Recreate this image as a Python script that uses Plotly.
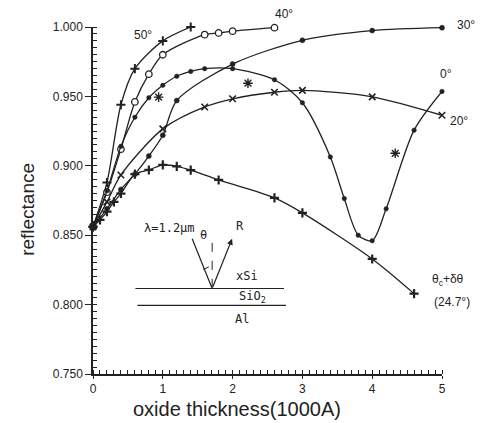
import plotly.graph_objects as go

# reflectance vs oxide thickness
x_50 = [0, 0.2, 0.4, 0.6, 1.0, 1.4]
r_50 = [0.856, 0.888, 0.944, 0.970, 0.990, 1.000]

x_40 = [0, 0.2, 0.4, 0.6, 0.8, 1.0, 1.6, 1.8, 2.0, 2.6]
r_40 = [0.856, 0.881, 0.912, 0.946, 0.966, 0.980, 0.9945, 0.9957, 0.997, 0.9995]

x_30 = [0, 0.2, 0.4, 0.6, 0.8, 1.0, 1.2, 2.0, 3.0, 4.0, 5.0]
r_30 = [0.856, 0.869, 0.883, 0.894, 0.907, 0.922, 0.947, 0.9733, 0.9904, 0.9974, 0.9995]

x_0 = [0, 0.2, 0.4, 0.6, 0.8, 1.0, 1.2, 1.4, 1.6, 2.0, 2.6, 3.0, 3.4, 3.6, 3.8, 4.0, 4.2, 4.6, 5.0]
r_0 = [0.856, 0.882, 0.914, 0.935, 0.949, 0.958, 0.9645, 0.968, 0.970, 0.970, 0.962,
       0.9454, 0.9064, 0.8764, 0.850, 0.846, 0.869, 0.9257, 0.9536]

x_20 = [0, 0.2, 0.4, 1.0, 1.6, 2.0, 2.6, 3.0, 4.0, 5.0]
r_20 = [0.856, 0.874, 0.8934, 0.9266, 0.9424, 0.9483, 0.953, 0.9543, 0.9497, 0.9364]

x_c = [0, 0.1, 0.2, 0.3, 0.4, 0.6, 0.8, 1.0, 1.2, 1.4, 1.8, 2.6, 3.0, 4.0, 4.6]
r_c = [0.856, 0.861, 0.867, 0.874, 0.880, 0.894, 0.897, 0.9007, 0.8996, 0.8969,
       0.8898, 0.8769, 0.8661, 0.8329, 0.8079]

# the loose asterisk points
x_star = [0.94, 2.22, 4.33]
r_star = [0.9495, 0.9595, 0.909]

ink = "#222"
X0, X1, Y0, Y1 = 0, 5, 0.75, 1.0
fig = go.Figure()

def curve(x, y, symbol, size, lw=1.5, fill=ink):
    fig.add_trace(go.Scatter(
        x=x, y=y, mode="lines+markers",
        line=dict(color=ink, width=1.3, shape="spline", smoothing=0.8),
        marker=dict(symbol=symbol, size=size, color=fill, line=dict(color=ink, width=lw)),
        cliponaxis=False, showlegend=False))

curve(x_50, r_50, "cross-thin", 6.5, 2)
curve(x_40, r_40, "circle", 6.5, 1.3, "white")
curve(x_30, r_30, "circle", 5, 0.5)
curve(x_0, r_0, "circle", 4.5, 0.5)
curve(x_20, r_20, "x-thin", 6.5, 1.6)
curve(x_c, r_c, "cross-thin", 6.5, 2.2)

fig.add_trace(go.Scatter(
    x=x_star, y=r_star, mode="markers",
    marker=dict(symbol="asterisk", size=8, line=dict(color=ink, width=1.4)),
    showlegend=False))

# curve labels (paper refs so the ones past the axis ends still show)
lab = dict(family="Liberation Sans", size=12, color=ink)
for txt, x, y in [("50°", 0.72, 0.9945), ("40°", 2.74, 1.0095), ("30°", 5.35, 1.0016),
                  ("0°", 5.06, 0.966), ("20°", 5.24, 0.9324),
                  ("θ<sub>c</sub>+δθ", 5.09, 0.8174), ("(24.7°)", 5.15, 0.8017)]:
    fig.add_annotation(x=(x - X0) / (X1 - X0), y=(y - Y0) / (Y1 - Y0), xref="paper", yref="paper",
                       xanchor="center", yanchor="middle", text=txt, showarrow=False, font=lab)

# inset sketch of the layer stack
mono = dict(family="DejaVu Sans Mono", size=12, color=ink)
for txt, x, y in [("λ=1.2μm", 1.09, 0.8552), ("θ", 1.58, 0.850), ("R", 2.11, 0.8566),
                  ("xSi", 2.21, 0.8209), ("SiO<sub>2</sub>", 2.29, 0.8055), ("Al", 2.14, 0.7895)]:
    fig.add_annotation(x=x, y=y, text=txt, showarrow=False, font=mono)

fig.add_shape(type="line", x0=0.607, y0=0.8116, x1=2.736, y1=0.8116, line=dict(color=ink, width=1.2))
fig.add_shape(type="line", x0=0.636, y0=0.7995, x1=2.764, y1=0.7995, line=dict(color=ink, width=1.2))
fig.add_shape(type="line", x0=1.421, y0=0.8474, x1=1.707, y1=0.8116, line=dict(color=ink, width=1.2))
fig.add_shape(type="line", x0=1.707, y0=0.8445, x1=1.707, y1=0.8116, line=dict(color=ink, width=1, dash="dash"))
fig.add_shape(type="line", x0=1.58, y0=0.8253, x1=1.66, y1=0.8272, line=dict(color=ink, width=1))
fig.add_annotation(x=1.993, y=0.8474, ax=1.707, ay=0.8116, axref="x", ayref="y",
                   showarrow=True, arrowhead=2, arrowsize=1, arrowwidth=1.2, arrowcolor=ink, text="")

# page body has an 8px margin, so shrink the figure by that much
fig.update_layout(
    width=479, height=415,
    margin=dict(l=84.5, r=44.5, t=16.3, b=48.7),
    plot_bgcolor="white", paper_bgcolor="white",
    font=dict(family="Liberation Sans", size=12, color=ink),
    xaxis=dict(range=[X0, X1], dtick=1, showgrid=False, zeroline=False,
               showline=True, linecolor=ink, linewidth=1.5,
               ticks="outside", ticklen=3, tickcolor=ink,
               minor=dict(dtick=0.1, ticks="inside", ticklen=4, tickcolor=ink)),
    yaxis=dict(range=[Y0, Y1], tickvals=[0.75, 0.8, 0.85, 0.9, 0.95, 1.0], tickformat=".3f",
               showgrid=False, zeroline=False,
               showline=True, linecolor=ink, linewidth=1.5,
               ticks="outside", ticklen=6, tickcolor=ink,
               minor=dict(dtick=0.005, ticks="inside", ticklen=4, tickcolor=ink)),
)
fig.add_annotation(x=2.06, y=-0.1, xref="x", yref="paper", xanchor="center", yanchor="middle",
                   text="oxide thickness(1000A)", showarrow=False,
                   font=dict(family="Liberation Sans", size=20, color=ink))
fig.add_annotation(x=-0.19, y=0.475, xref="paper", yref="paper", xanchor="center", yanchor="middle",
                   text="reflectance", textangle=-90, showarrow=False,
                   font=dict(family="Liberation Sans", size=19, color=ink))

fig.write_html("out.html")
